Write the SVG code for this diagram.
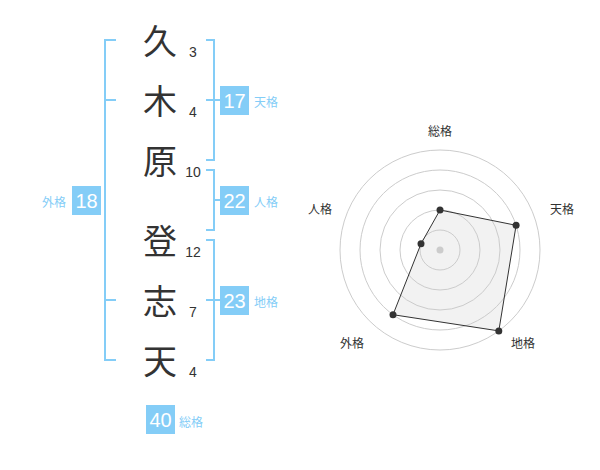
<svg xmlns="http://www.w3.org/2000/svg" width="600" height="470" viewBox="0 0 600 470">
<style>
.ch{font-family:"Noto Sans CJK JP","Noto Sans CJK SC",sans-serif;font-size:34px;fill:#333;text-anchor:middle;dominant-baseline:central}
.num{font-family:"Liberation Sans",Arial,sans-serif;font-size:14px;fill:#333;text-anchor:middle;dominant-baseline:central}
.br{fill:none;stroke:#84cdf7;stroke-width:2}
.box{fill:#84cdf7}
.bt{font-family:"Liberation Sans",Arial,sans-serif;font-size:20px;fill:#fff;text-anchor:middle;dominant-baseline:central}
.lb{font-family:"Noto Sans CJK JP","Noto Sans CJK SC",sans-serif;font-size:12px;fill:#84cdf7;dominant-baseline:central}
.ring{fill:none;stroke:#ccc;stroke-width:1}
.rl{font-family:"Noto Sans CJK JP","Noto Sans CJK SC",sans-serif;font-size:12px;fill:#333;text-anchor:middle;dominant-baseline:central}
.pt{fill:#333}
</style>
<g id="chars">
<text class="ch" x="160" y="39">久</text>
<text class="ch" x="160" y="99">木</text>
<text class="ch" x="160" y="159">原</text>
<text class="ch" x="160" y="239">登</text>
<text class="ch" x="160" y="299">志</text>
<text class="ch" x="160" y="359">天</text>
<text class="num" x="193" y="52">3</text>
<text class="num" x="193" y="112">4</text>
<text class="num" x="193" y="172">10</text>
<text class="num" x="193" y="252">12</text>
<text class="num" x="193" y="312">7</text>
<text class="num" x="193" y="372">4</text>
</g>
<g id="connectors">
<path class="br" d="M116,40 H105 V360 H116 M105,100 H116 M105,300 H116"/>
<path class="br" d="M206,40 H214 V160 H206 M206,100 H220"/>
<path class="br" d="M206,170 H214 V230 H206 M214,200 H220"/>
<path class="br" d="M206,240 H214 V360 H206 M206,300 H220"/>
</g>
<g id="tenkaku">
<rect class="box" x="220" y="86" width="29" height="29"/>
<text class="bt" x="234.5" y="101">17</text>
<text class="lb" x="254" y="101">天格</text>
</g>
<g id="jinkaku">
<rect class="box" x="220" y="186" width="29" height="29"/>
<text class="bt" x="234.5" y="201">22</text>
<text class="lb" x="254" y="201">人格</text>
</g>
<g id="chikaku">
<rect class="box" x="220" y="286" width="29" height="29"/>
<text class="bt" x="234.5" y="301">23</text>
<text class="lb" x="254" y="301">地格</text>
</g>
<g id="gaikaku">
<rect class="box" x="72" y="186" width="29" height="29"/>
<text class="bt" x="86.5" y="201">18</text>
<text class="lb" x="66" y="201" text-anchor="end">外格</text>
</g>
<g id="soukaku">
<rect class="box" x="146" y="405" width="29" height="29"/>
<text class="bt" x="160.5" y="420">40</text>
<text class="lb" x="179" y="421">総格</text>
</g>
<g id="radar">
<circle class="ring" cx="440" cy="250" r="20"/>
<circle class="ring" cx="440" cy="250" r="40"/>
<circle class="ring" cx="440" cy="250" r="60"/>
<circle class="ring" cx="440" cy="250" r="80"/>
<circle class="ring" cx="440" cy="250" r="100"/>
<circle cx="440" cy="250" r="3.5" fill="#ccc"/>
<polygon points="440,210 516.1,225.3 498.8,330.9 393,314.7 421,243.8" fill="#ccc" fill-opacity="0.25" stroke="#333" stroke-width="1"/>
<circle class="pt" cx="440" cy="210" r="3.5"/>
<circle class="pt" cx="516.1" cy="225.3" r="3.5"/>
<circle class="pt" cx="498.8" cy="330.9" r="3.5"/>
<circle class="pt" cx="393" cy="314.7" r="3.5"/>
<circle class="pt" cx="421" cy="243.8" r="3.5"/>
<text class="rl" x="440" y="130">総格</text>
<text class="rl" x="562" y="208">天格</text>
<text class="rl" x="523" y="342">地格</text>
<text class="rl" x="352" y="342">外格</text>
<text class="rl" x="320" y="208">人格</text>
</g>
</svg>
